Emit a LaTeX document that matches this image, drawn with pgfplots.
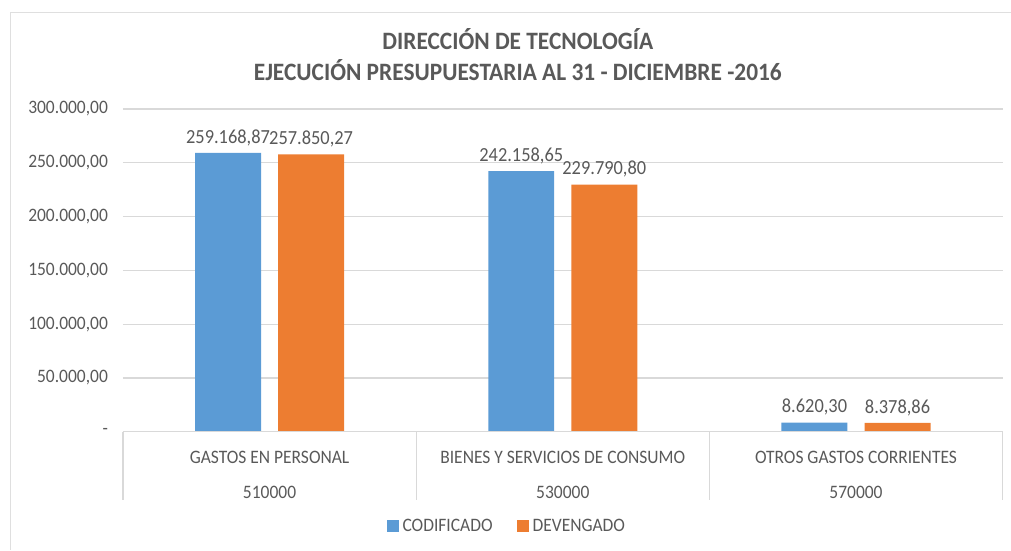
\documentclass[border=0pt]{standalone}
\usepackage{pgfplots}
\pgfplotsset{compat=1.18}
\usepackage{pgfplotstable}
\usepackage{fontspec}
\setmainfont{Carlito}[FakeStretch=0.92]
\newfontfamily\titlefont{Carlito}[FakeStretch=0.935]
\definecolor{cblue}{HTML}{5B9BD5}
\definecolor{corange}{HTML}{ED7D31}
\definecolor{txt}{HTML}{595959}
\definecolor{gridc}{HTML}{D9D9D9}
\pgfplotstableread{
x y lab
0 259168.87 259.168,87
1 242158.65 242.158,65
2 8620.30 8.620,30
}\codificado
\pgfplotstableread{
x y lab
0 257850.27 257.850,27
1 229790.80 229.790,80
2 8378.86 8.378,86
}\devengado
\begin{document}
\begin{tikzpicture}
\path (-61.5pt,-59pt) rectangle (444pt,216pt);
\draw[gray!25] (-56.5pt,-59pt) -- (-56.5pt,210pt) -- (444pt,210pt);
\node[txt,font=\titlefont\bfseries\fontsize{12.5}{15}\selectfont, align=center] at (197.5pt,188.5pt) {DIRECCIÓN DE TECNOLOGÍA\\[0.5pt]EJECUCIÓN PRESUPUESTARIA AL 31 - DICIEMBRE -2016};
\begin{axis}[
  scale only axis, width=440pt, height=161.5pt,
  at={(0,0)}, anchor=south west,
  xmin=-0.5, xmax=2.5, ymin=0, ymax=300000,
  axis line style={draw=none},
  ymajorgrids, grid style={gridc, line width=0.6pt},
  major tick length=0pt,
  ytick={0,50000,100000,150000,200000,250000,300000},
  yticklabels={{-},{50.000,00},{100.000,00},{150.000,00},{200.000,00},{250.000,00},{300.000,00}},
  yticklabel style={font=\fontsize{9.5}{11}\selectfont, text=txt, xshift=-4pt},
  xtick={0,1,2},
  xticklabels={{GASTOS EN PERSONAL\\[6.5pt]510000},{BIENES Y SERVICIOS DE CONSUMO\\[6.5pt]530000},{OTROS GASTOS CORRIENTES\\[6.5pt]570000}},
  xticklabel style={font=\fontsize{9.5}{11}\selectfont, text=txt, align=center, yshift=-6pt},
  scaled y ticks=false,
  ybar, bar width=0.225,
  point meta=explicit symbolic,
  nodes near coords,
  nodes near coords style={font=\fontsize{10}{12}\selectfont, text=txt},
  legend style={draw=none, at={(0.4375,-0.293)}, anchor=center, legend columns=2, font=\fontsize{9.5}{11}\selectfont, text=txt, /tikz/every even column/.append style={column sep=10pt}},
  legend image code/.code={\fill[#1] (0pt,-3pt) rectangle (6pt,3pt);},
  clip=false,
]
\addplot[fill=cblue, draw=none, bar shift=-0.1416] table[x=x, y=y, meta=lab] {\codificado};
\addplot[fill=corange, draw=none, bar shift=0.1416] table[x=x, y=y, meta=lab] {\devengado};
\legend{CODIFICADO, DEVENGADO}
\draw[gridc, line width=0.6pt] (axis cs:-0.5,0) -- (axis cs:2.5,0);
\draw[gridc, line width=0.6pt] (axis cs:-0.5,0) -- ([yshift=-34pt]axis cs:-0.5,0);
\draw[gridc, line width=0.6pt] (axis cs:0.5,0) -- ([yshift=-34pt]axis cs:0.5,0);
\draw[gridc, line width=0.6pt] (axis cs:1.5,0) -- ([yshift=-34pt]axis cs:1.5,0);
\draw[gridc, line width=0.6pt] (axis cs:2.5,0) -- ([yshift=-34pt]axis cs:2.5,0);
\end{axis}
\end{tikzpicture}
\end{document}
